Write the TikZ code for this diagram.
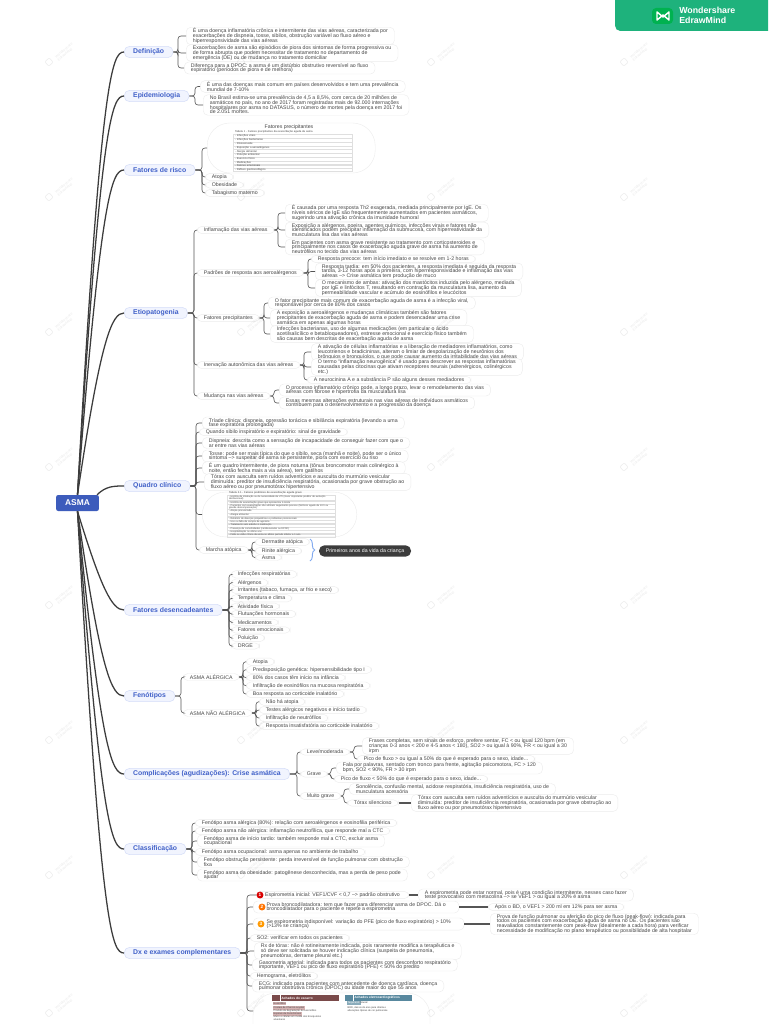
\documentclass[tikz,border=0pt]{standalone}
\usepackage{fontspec}
\setmainfont{Liberation Sans}
\usetikzlibrary{calc,decorations.pathreplacing}
\AtBeginDocument{\lineskiplimit=-3pt\relax\normallineskiplimit=-3pt\relax}
\definecolor{rootblue}{RGB}{61,92,188}
\definecolor{topicblue}{RGB}{64,96,200}
\definecolor{topicfill}{RGB}{241,244,254}
\definecolor{topicline}{RGB}{214,222,248}
\definecolor{leafline}{RGB}{236,236,236}
\definecolor{leaftext}{RGB}{70,70,70}
\definecolor{linkgray}{RGB}{85,85,85}
\definecolor{bargreen}{RGB}{30,178,124}
\definecolor{bracesky}{RGB}{130,170,240}
\definecolor{pilldark}{RGB}{60,60,60}
\definecolor{sputumred}{RGB}{122,74,74}
\definecolor{sputumpink}{RGB}{214,180,180}
\definecolor{ecgteal}{RGB}{88,136,158}
\tikzset{
  rootbox/.style={draw=none,fill=rootblue,rounded corners=1.5pt,text=white,
                  font=\fontsize{6.3}{7}\selectfont\bfseries,minimum width=32pt,minimum height=12pt,inner sep=0pt},
  topic/.style={draw=topicline,fill=topicfill,rounded corners=4pt,anchor=west,text=topicblue,line width=.4pt,
                font=\fontsize{5.15}{6}\selectfont\bfseries,inner xsep=6.7pt,inner ysep=0pt,minimum height=8.5pt},
  leaf/.style={draw=leafline,fill=white,line width=.3pt,rounded corners=3.5pt,anchor=west,align=left,text=leaftext,
               font=\fontsize{3.92}{3.55}\selectfont,inner xsep=5pt,inner ysep=.9pt},
  imgoval/.style={draw=leafline,fill=white,line width=.3pt,rounded corners=17pt,anchor=west},
  tabrow/.style={draw=gray!25,line width=.1pt,anchor=west,align=left,text=leaftext,text width=86pt,
                 font=\fontsize{2}{2.2}\selectfont,inner xsep=1.5pt,inner ysep=0pt,minimum height=2.8pt},
  badge/.style={circle,text=white,font=\fontsize{3.5}{4}\selectfont\bfseries,inner sep=0pt,minimum size=5.2pt},
  pill/.style={fill=pilldark,rounded corners=4pt,text=white,font=\fontsize{3.9}{4.5}\selectfont,
               minimum width=69pt,minimum height=8.5pt,inner sep=0pt},
  minihead/.style={anchor=west,text=white,font=\fontsize{2.4}{3}\selectfont\bfseries,minimum height=4.6pt,
                   inner xsep=7pt,inner ysep=0pt,text width=36pt},
  minitag/.style={anchor=west,font=\fontsize{1.9}{2.2}\selectfont,align=left,text=leaftext,inner sep=.3pt},
  stamp/.style={rotate=40,opacity=.16,text=gray,font=\fontsize{2.7}{3}\selectfont,align=left,inner sep=0pt},
  stamplogo/.style={rotate=40,opacity=.16,draw=gray,rounded corners=1pt,minimum size=4.5pt,inner sep=0pt},
  trunk/.style={draw=linkgray!70!black,line width=.95pt},
  link/.style={draw=linkgray,line width=.45pt,rounded corners=2.2pt},
  direct/.style={draw=linkgray,line width=.8pt}
}
\newcommand{\kids}[3]{\foreach \k in {#3}
  \draw[link] (#1.east) -- (#2,0 |- #1.east) |- (\k.west);}

\begin{document}
\begin{tikzpicture}[x=0.75pt,y=-0.75pt]
  \useasboundingbox (0,0) rectangle (768,1024);
  \fill[white] (0,0) rectangle (768,1024);

  \fill[bargreen,rounded corners=4pt] (615,0) -- (615,31) [sharp corners] -- (768,31) -- (768,0) -- cycle;
  \fill[green!55!cyan!70!black,rounded corners=3pt] (652,8) rectangle (673,24);
  \draw[white,line width=1.1pt,line join=round] (657,12) -- (657,20) -- (663,15) -- (669,20) -- (669,12) -- (663,17) -- cycle;
  \node[anchor=west,text=white,align=left,inner sep=0pt,font=\fontsize{6.6}{7}\selectfont\bfseries] (brand) at (679,15.5) {Wondershare\\EdrawMind};

  \node[rootbox] (root) at (77.5,503) {ASMA};

  \node[topic] (tdef) at (124,52) {Definição};
  \node[topic] (tepi) at (124,96) {Epidemiologia};
  \node[topic] (trisco) at (124,170) {Fatores de risco};
  \node[topic] (tetio) at (124,313) {Etiopatogenia};
  \node[topic] (tquad) at (124,486) {Quadro clínico};
  \node[topic] (tdes) at (124,610) {Fatores desencadeantes};
  \node[topic] (tfen) at (124,696) {Fenótipos};
  \node[topic] (tcomp) at (124,774) {Complicações (agudizações): Crise asmática};
  \node[topic] (tclas) at (124,849) {Classificação};
  \node[topic] (tdx) at (124,953) {Dx e exames complementares};

  \foreach \t in {tdef,tepi,trisco,tetio}
    \draw[trunk] (root.north) .. controls ($(\t.west)+(-23,24)$) and ($(\t.west)+(-12,0)$) .. (\t.west);
  \draw[trunk] ($(root.north east)+(-2,0)$) .. controls ($(tquad.west)+(-18,0)$) and ($(tquad.west)+(-10,0)$) .. (tquad.west);
  \foreach \t in {tdes,tfen,tcomp,tclas,tdx}
    \draw[trunk] (root.south) .. controls ($(\t.west)+(-23,-22)$) and ($(\t.west)+(-12,0)$) .. (\t.west);

  % definicao e epidemiologia
  \node[leaf] (def1) at (186,36) {É uma doença inflamatória crônica e intermitente das vias aéreas, caracterizada por\\exacerbações de dispneia, tosse, sibilos, obstrução variável ao fluxo aéreo e\\hiperresponsividade das vias aéreas};
  \node[leaf] (def2) at (186,53) {Exacerbações de asma são episódios de piora dos sintomas de forma progressiva ou\\de forma abrupta que podem necessitar de tratamento no departamento de\\emergência (DE) ou de mudança no tratamento domiciliar};
  \node[leaf] (def3) at (184,68) {Diferença para a DPOC: a asma é um distúrbio obstrutivo reversível ao fluxo\\expiratório (períodos de piora e de melhora)};
  \kids{tdef}{178}{def1,def2,def3}
  \node[leaf] (epi1) at (200,86.5) {É uma das doenças mais comum em países desenvolvidos e tem uma prevalência\\mundial de 7-10\%};
  \node[leaf] (epi2) at (203,105) {No Brasil estima-se uma prevalência de 4,5 a 8,5\%, com cerca de 20 milhões de\\asmáticos no país, no ano de 2017 foram registradas mais de 92.000 internações\\hospitalares por asma no DATASUS, o número de mortes pela doença em 2017 foi\\de 2.051 mortes.};
  \kids{tepi}{195}{epi1,epi2}

  % fatores de risco
  \node[imgoval,minimum width=126pt,minimum height=37.5pt] (riscoimg) at (207,148) {};
  \node[font=\fontsize{3.9}{4}\selectfont,text=leaftext,inner sep=0pt] (riscotit) at (289,127) {Fatores precipitantes};
  \node[tabrow,draw=none] (riscohead) at (233,132) {Tabela 1 - Fatores precipitantes da exacerbação aguda da asma};
  \foreach \i/\y/\t in {1/136/Infecções virais,2/140/Infecções bacterianas,3/143.8/Rinossinusite,4/147.6/Exposição a aeroalérgenos,5/151.4/Alergia alimentar,6/155.2/Poluição ambiental,7/159/Exercício físico,8/162.7/Medicações,9/166/Fatores emocionais,10/169.5/Refluxo gastroesofágico}
    \node[tabrow] (riscorow\i) at (233,\y) {- \t};
  \node[leaf] (atopia) at (205,177) {Atopia};
  \node[leaf] (obesidade) at (205,185) {Obesidade};
  \node[leaf] (tabagismo) at (205,193) {Tabagismo materno};
  \kids{trisco}{202}{riscoimg,atopia,obesidade,tabagismo}

  % etiopatogenia
  \node[leaf] (infl) at (197,230) {Inflamação das vias aéreas};
  \node[leaf] (padr) at (197,273) {Padrões de resposta aos aeroalérgenos};
  \node[leaf] (prec) at (197,318) {Fatores precipitantes};
  \node[leaf] (inerv) at (197,365) {Inervação autonômica das vias aéreas};
  \node[leaf] (mud) at (197,396) {Mudança nas vias aéreas};
  \kids{tetio}{194}{infl,padr,prec,inerv,mud}
  \node[leaf] (infl1) at (285,213) {É causada por uma resposta Th2 exagerada, mediada principalmente por IgE. Os\\níveis séricos de IgE são frequentemente aumentados em pacientes asmáticos,\\sugerindo uma ativação crônica da imunidade humoral};
  \node[leaf] (infl2) at (285,230) {Exposição a alérgenos, poeira, agentes químicos, infecções virais e fatores não\\identificados podem precipitar inflamação da submucosa, com hiperreatividade da\\musculatura lisa das vias aéreas};
  \node[leaf] (infl3) at (285,247) {Em pacientes com asma grave resistente ao tratamento com corticosteroides e\\principalmente nos casos de exacerbação aguda grave de asma há aumento de\\neutrófilos no tecido das vias aéreas};
  \kids{infl}{278}{infl1,infl2,infl3}
  \node[leaf] (padr1) at (311,259) {Resposta precoce: tem início imediato e se resolve em 1-2 horas};
  \node[leaf] (padr2) at (315,271.5) {Resposta tardia: em 50\% dos pacientes, a resposta imediata é seguida da resposta\\tardia, 3-12 horas após a primeira, com hiperresponsividade e inflamação das vias\\aéreas --> Crise asmática tem produção de muco};
  \node[leaf] (padr3) at (315,288) {O mecanismo de ambas: ativação dos mastócitos induzida pelo alérgeno, mediada\\por IgE e linfócitos T, resultando em contração da musculatura lisa, aumento da\\permeabilidade vascular e acúmulo de eosinófilos e leucócitos};
  \kids{padr}{308}{padr1,padr2,padr3}
  \node[leaf] (prec1) at (268,303) {O fator precipitante mais comum de exacerbação aguda de asma é a infecção viral,\\responsável por cerca de 80\% dos casos};
  \node[leaf] (prec2) at (270,318) {A exposição a aeroalérgenos e mudanças climáticas também são fatores\\precipitantes de exacerbação aguda de asma e podem desencadear uma crise\\asmática em apenas algumas horas};
  \node[leaf] (prec3) at (270,334) {Infecções bacterianas, uso de algumas medicações (em particular o ácido\\acetilsalicílico e betabloqueadores), estresse emocional e exercício físico também\\são causas bem descritas de exacerbação aguda de asma};
  \kids{prec}{264}{prec1,prec2,prec3}
  \node[leaf] (inerv1) at (311,352) {A ativação de células inflamatórias e a liberação de mediadores inflamatórios, como\\leucotrienos e bradicininas, alteram o limiar de despolarização de neurônios dos\\brônquios e bronquíolos, o que pode causar aumento da irritabilidade das vias aéreas};
  \node[leaf] (inerv2) at (311,367) {O termo “inflamação neurogênica” é usado para descrever as respostas inflamatórias\\causadas pelas citocinas que ativam receptores neurais (adrenérgicos, colinérgicos\\etc.)};
  \node[leaf] (inerv3) at (307,380) {A neurocinina A e a substância P são alguns desses mediadores};
  \kids{inerv}{304}{inerv1,inerv2,inerv3}
  \node[leaf] (mud1) at (279,390) {O processo inflamatório crônico pode, a longo prazo, levar o remodelamento das vias\\aéreas com fibrose e hipertrofia da musculatura lisa};
  \node[leaf] (mud2) at (279,403) {Essas mesmas alterações estruturais nas vias aéreas de indivíduos asmáticos\\contribuem para o desenvolvimento e a progressão da doença};
  \kids{mud}{274}{mud1,mud2}

  % quadro clinico
  \node[leaf] (quad1) at (202,423) {Tríade clínica: dispneia, opressão torácica e sibilância expiratória (levando a uma\\fase expiratória prolongada)};
  \node[leaf] (quad2) at (199,432) {Quando sibilo inspiratório e expiratório: sinal de gravidade};
  \node[leaf] (quad3) at (202,443) {Dispneia: descrita como a sensação de incapacidade de conseguir fazer com que o\\ar entre nas vias aéreas};
  \node[leaf] (quad4) at (202,456) {Tosse: pode ser mais típica do que o sibilo, seca (manhã e noite), pode ser o único\\sintoma --> suspeitar de asma se persistente, piora com exercício ou riso};
  \node[leaf] (quad5) at (202,468) {É um quadro intermitente, de piora noturna (tônus broncomotor mais colinérgico à\\noite, então fecha mais a via aérea), tem gatilhos};
  \node[leaf] (quad6) at (204,482) {Tórax com ausculta sem ruídos adventícios e ausculta do murmúrio vesicular\\diminuída: preditor de insuficiência respiratória, ocasionada por grave obstrução ao\\fluxo aéreo ou por pneumotórax hipertensivo};
  \node[imgoval,minimum width=116pt,minimum height=33.5pt] (quadimg) at (202,514.5) {};
  \node[tabrow,draw=none,text width=78pt] (quadhead) at (227,493.3) {Tabela 2.1 - Fatores preditores de exacerbação aguda grave};
  \foreach \i/\y/\t in {1/497.9/{História de intubação ou de necessidade de UTI (maior importante preditor de evolução\\desfavorável)},2/502.5/História de exacerbação grave que apresentou à morte,3/507/{Pacientes com exacerbação não atinham seguimento precoce (histórico agudo de 24 h ou\\grande descompensação)},4/511.3/Atopia pronunciada,5/515/Alergia alimentar,6/518.4/Relatório de doenças psiquiátricas e problemas psicossociais,7/521.7/Uso ou falta de compra de agonista,8/525.1/Tratamento sem adesão à medicação,9/528.6/Presença de comorbidades (cardiovascular ou DPOC),10/532/Hospitalização no último ano,11/535.2/Falta ou visão clínica da asma no último período inferior a 1 ano}
    \node[tabrow,text width=78pt,font=\fontsize{1.8}{2}\selectfont] (quadrow\i) at (227,\y) {- \t};
  \node[leaf] (marcha) at (199,550) {Marcha atópica};
  \kids{tquad}{196}{quad1,quad2,quad3,quad4,quad5,quad6,quadimg,marcha}
  \node[leaf] (dermat) at (255,542) {Dermatite atópica};
  \node[leaf] (rinite) at (255,551) {Rinite alérgica};
  \node[leaf] (asma) at (255,557.5) {Asma};
  \kids{marcha}{252}{dermat,rinite,asma}
  \coordinate (bracetop) at (310,539);
  \coordinate (bracebot) at (310,561);
  \draw[bracesky,line width=.7pt,decorate,decoration={brace,amplitude=3.5pt}] (bracetop) -- (bracebot);
  \node[pill] (primeiros) at (365,551) {Primeiros anos da vida da criança};

  % fatores desencadeantes
  \foreach \i/\y/\t in {1/574.3/Infecções respiratórias,2/582.7/Alérgenos,3/590/{Irritantes (tabaco, fumaça, ar frio e seco)},4/598.3/Temperatura e clima,5/606.3/Atividade física,6/614/Flutuações hormonais,7/622.3/Medicamentos,8/630/Fatores emocionais,9/638/Poluição,10/646/DRGE}{
    \node[leaf] (des\i) at (231,\y) {\t};
    \kids{tdes}{229}{des\i}
  }

  % fenotipos
  \node[leaf] (alerg) at (183,677) {ASMA ALÉRGICA};
  \node[leaf] (naoal) at (183,713) {ASMA NÃO ALÉRGICA};
  \kids{tfen}{181}{alerg,naoal}
  \foreach \i/\y/\t in {1/661.7/Atopia,2/669.7/Predisposição genética: hipersensibilidade tipo I,3/677.7/80\% dos casos têm início na infância,4/685.7/Infiltração de eosinófilos na mucosa respiratória,5/694/Boa resposta ao corticoide inalatório}{
    \node[leaf] (alerg\i) at (246,\y) {\t};
    \kids{alerg}{243}{alerg\i}
  }
  \foreach \i/\y/\t in {1/701.7/Não há atopia,2/710/Testes alérgicos negativos e início tardio,3/718/Infiltração de neutrófilos,4/726/Resposta insatisfatória ao corticoide inalatório}{
    \node[leaf] (naoal\i) at (259,\y) {\t};
    \kids{naoal}{256}{naoal\i}
  }

  % complicacoes
  \node[leaf] (leve) at (300,752) {Leve/moderada};
  \node[leaf] (grave) at (300,774) {Grave};
  \node[leaf] (mgrave) at (300,796) {Muito grave};
  \kids{tcomp}{297}{leve,grave,mgrave}
  \node[leaf] (leve1) at (362,746) {Frases completas, sem sinais de esforço, prefere sentar, FC < ou igual 120 bpm (em\\crianças 0-3 anos < 200 e 4-5 anos < 180), SO2 > ou igual à 90\%, FR < ou igual a 30\\irpm};
  \node[leaf] (leve2) at (357,759) {Pico de fluxo > ou igual a 50\% do que é esperado para o sexo, idade...};
  \kids{leve}{354}{leve1,leve2}
  \node[leaf] (grave1) at (336,768) {Fala por palavras, sentado com tronco para frente, agitação psicomotora, FC > 120\\bpm, SO2 < 90\%, FR > 30 irpm};
  \node[leaf] (grave2) at (334,779) {Pico de fluxo < 50\% do que é esperado para o sexo, idade...};
  \kids{grave}{331}{grave1,grave2}
  \node[leaf] (mgrave1) at (349,789) {Sonolência, confusão mental, acidose respiratória, insuficiência respiratória, uso de\\musculatura acessória};
  \node[leaf] (silenc) at (347,803) {Tórax silencioso};
  \kids{mgrave}{344}{mgrave1,silenc}
  \node[leaf] (silenc1) at (411,803) {Tórax com ausculta sem ruídos adventícios e ausculta do murmúrio vesicular\\diminuída: preditor de insuficiência respiratória, ocasionada por grave obstrução ao\\fluxo aéreo ou por pneumotórax hipertensivo};
  \draw[direct] (silenc.east) -- (silenc1.west);

  % classificacao
  \node[leaf] (clas1) at (195,823) {Fenótipo asma alérgica (80\%): relação com aeroalérgenos e eosinofilia periférica};
  \node[leaf] (clas2) at (195,831) {Fenótipo asma não alérgica: inflamação neutrofílica, que responde mal a CTC};
  \node[leaf] (clas3) at (197,841) {Fenótipo asma de início tardio: também responde mal a CTC, excluir asma\\ocupacional};
  \node[leaf] (clas4) at (195,852) {Fenótipo asma ocupacional: asma apenas no ambiente de trabalho};
  \node[leaf] (clas5) at (197,862) {Fenótipo obstrução persistente: perda irreversível de função pulmonar com obstrução\\fixa};
  \node[leaf] (clas6) at (197,875) {Fenótipo asma da obesidade: patogênese desconhecida, mas a perda de peso pode\\ajudar};
  \kids{tclas}{192}{clas1,clas2,clas3,clas4,clas5,clas6}

  % dx
  \node[leaf,inner xsep=6.75pt] (dx1) at (256,895) {Espirometria inicial: VEF1/CVF < 0,7 --> padrão obstrutivo};
  \node[leaf,inner xsep=10pt] (dx2) at (253,907) {Prova broncodilatadora: tem que fazer para diferenciar asma de DPOC. Dá o\\broncodilatador para o paciente e repete a espirometria};
  \node[leaf,inner xsep=10pt] (dx3) at (253,924) {Se espirometria indisponível: variação do PFE (pico de fluxo expiratório) > 10\%\\(>13\% se criança)};
  \node[badge,fill=red!85!black] (badge1) at (260,895) {1};
  \node[badge,fill=orange!90!red] (badge2) at (262,907) {2};
  \node[badge,fill=orange!80!yellow] (badge3) at (261,924) {3};
  \node[leaf] (dx1a) at (418,895) {A espirometria pode estar normal, pois é uma condição intermitente, nesses caso fazer\\teste provocativo com metacolina --> se VEF1 > ou igual a 20\% é asma};
  \draw[direct] (dx1.east) -- (dx1a.west);
  \node[leaf] (dx2a) at (488,907) {Após o BD, o VEF1 > 200 ml em 12\% para ser asma};
  \draw[direct] (dx2.east) -- (dx2a.west);
  \node[leaf] (dx3a) at (490,924) {Prova de função pulmonar ou aferição do pico de fluxo (peak-flow): indicada para\\todos os pacientes com exacerbação aguda de asma no DE. Os pacientes são\\reavaliados constantemente com peak-flow (idealmente a cada hora) para verificar\\necessidade de modificação no plano terapêutico ou possibilidade de alta hospitalar};
  \draw[direct] (dx3.east) -- (dx3a.west);
  \node[leaf] (dx4) at (250,938) {SO2: verificar em todos os pacientes};
  \node[leaf] (dx5) at (254,951) {Rx de tórax: não é rotineiramente indicada, pois raramente modifica a terapêutica e\\só deve ser solicitada se houver indicação clínica (suspeita de pneumonia,\\pneumotórax, derrame pleural etc.)};
  \node[leaf] (dx6) at (252,965) {Gasometria arterial: indicada para todos os pacientes com desconforto respiratório\\importante, VEF1 ou pico de fluxo expiratório (PFE) < 50\% do predito};
  \node[leaf] (dx7) at (250,976) {Hemograma, eletrólitos};
  \node[leaf] (dx8) at (252,986) {ECG: indicado para pacientes com antecedente de doença cardíaca, doença\\pulmonar obstrutiva crônica (DPOC) ou idade maior do que 55 anos};
  \coordinate (dximgin) at (255,1011);
  \kids{tdx}{247}{dx1,dx2,dx3,dx4,dx5,dx6,dx7,dx8,dximgin}
  \draw[leafline,fill=white,line width=.3pt,rounded corners=17pt] (253,1024) -- (253,993) -- (430,993) -- (430,1024);
  \node[minihead,fill=sputumred] (sputum) at (272,998) {Achados do escarro};
  \node[minihead,fill=ecgteal] (ecg) at (345,998) {Achados eletrocardiográficos};
  \draw[white,line width=.3pt] (sputum.north west) ++(8,0) -- ++(0,6);
  \draw[white,line width=.3pt] (ecg.north west) ++(8,0) -- ++(0,6);
  \node[minitag,fill=sputumpink] (tag1) at (273,1003.7) {Eosinófilos};
  \node[minitag,fill=sputumpink] (tag2) at (273,1008) {Cristais de Charcot-Leyden};
  \node[minitag] (tag2b) at (273,1011) {Produto da degradação de eosinófilos};
  \node[minitag,fill=sputumpink] (tag3) at (273,1014) {Espirais de Curschmann};
  \node[minitag] (tag3b) at (273,1018.5) {Muco e células em molde dos bronquíolos\\alveolares};
  \node[minitag,fill=ecgteal!70,text=white] (tag4) at (347,1003) {Taquicardia};
  \node[minitag] (tag4b) at (359,1003) {sinusal};
  \node[minitag] (tag5) at (347,1009.5) {BRD, desvio do eixo para direita e\\alterações típicas de cor pulmonale};

  % carimbos
  \foreach \x in {65,257,447,640}
    \foreach \y in {52,187,322,457,595,730,865,1003}{
      \node[stamp] (wm-\x-\y) at (\x,\y) {Wondershare\\EdrawMind};
      \node[stamplogo] (wmlogo-\x-\y) at ($(\x,\y)+(-16,10)$) {};
    }
\end{tikzpicture}
\end{document}
